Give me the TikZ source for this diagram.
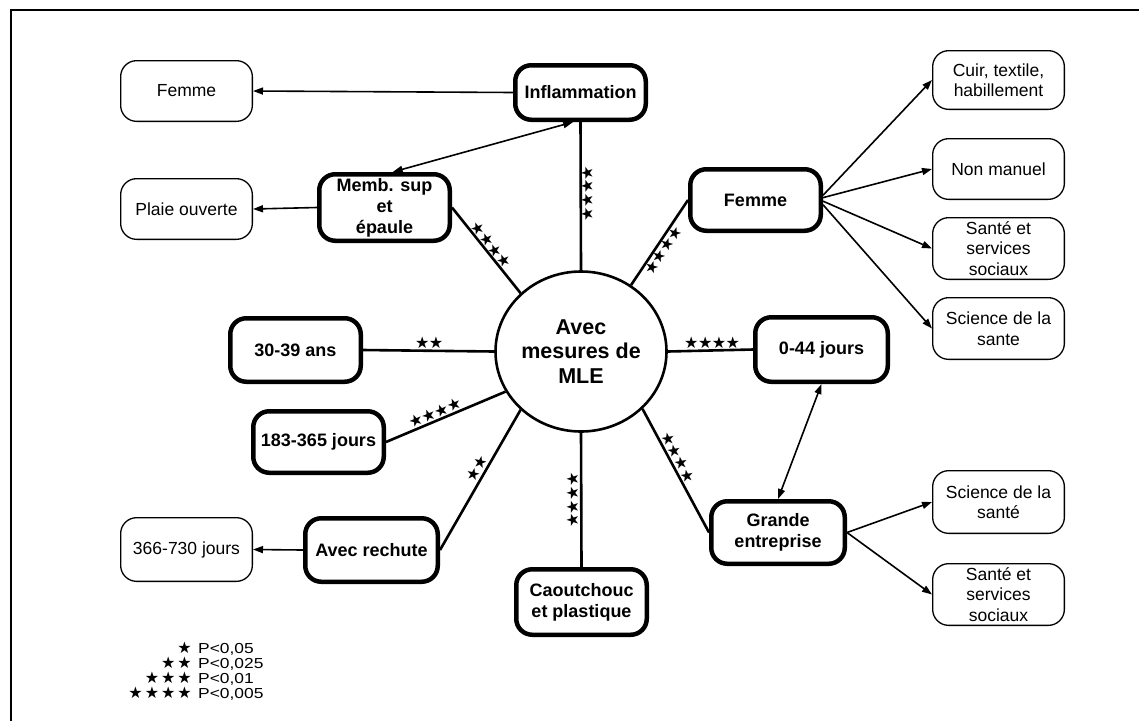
\documentclass[tikz,border=0pt]{standalone}
\usepackage{fontspec}
\setmainfont{Liberation Sans}
\newfontfamily\starfont{DejaVu Sans}
\newfontfamily\legfont[FakeStretch=1.2]{Liberation Sans}
\usetikzlibrary{arrows.meta,shapes.geometric,calc}
\newcommand\mytwostars{★\kern-0.5pt★}
\newcommand\myfourstars{★\kern-0.5pt★\kern-0.5pt★\kern-0.5pt★}
\begin{document}
\begin{tikzpicture}[x=1pt,y=-1pt,
  boldbox/.style={draw, line width=4.5pt, rounded corners=16pt, align=center,
    font=\bfseries\fontsize{18pt}{21pt}\selectfont, inner sep=1pt},
  thinbox/.style={draw, line width=1.3pt, rounded corners=16pt, align=center,
    font=\fontsize{17.5pt}{20.5pt}\selectfont, inner sep=1pt, minimum width=131.7pt},
  spoke/.style={line width=2.6pt},
  arr/.style={line width=1.6pt, -{Triangle[length=10pt,width=7pt]}},
  darr/.style={line width=1.6pt, {Triangle[length=10pt,width=7pt]}-{Triangle[length=10pt,width=7pt]}},
  pstars/.style={font=\starfont\fontsize{16pt}{16pt}\selectfont, inner sep=0pt},
  legstar/.style={font=\starfont\fontsize{16pt}{16pt}\selectfont, inner sep=0pt, anchor=base east},
  legtext/.style={font=\legfont\fontsize{14.5pt}{15pt}\selectfont, inner sep=0pt, anchor=base west}
]
\path[fill=white] (0,0) rectangle (1139,721);
\useasboundingbox (0,0) rectangle (1139,721);
\draw[line width=2pt] (11,721) -- (11,10) -- (1139,10);

% centre
\node[ellipse, draw, line width=2.6pt, minimum width=171pt, minimum height=160pt, inner sep=0pt,
  align=center, font=\bfseries\fontsize{21.5pt}{24.5pt}\selectfont] (c) at (581,351.5) {Avec\\mesures de\\MLE};

% bold boxes
\node[boldbox, minimum width=130.5pt, minimum height=54.5pt] (infl) at (580.5,92.5) {Inflammation};
\node[boldbox, minimum width=130.5pt, minimum height=66.5pt] (memb) at (384.5,207.5) {Memb. sup\\et\\épaule};
\node[boldbox, minimum width=130.5pt, minimum height=61.5pt] (femB) at (755.5,200) {Femme};
\node[boldbox, minimum width=130.5pt, minimum height=63.5pt] (a3039) at (295.5,350) {30-39 ans};
\node[boldbox, minimum width=130.5pt, minimum height=61.5pt] (j183) at (318.5,442) {183-365 jours};
\node[boldbox, minimum width=132.5pt, minimum height=63.5pt] (rech) at (371.5,550) {Avec rechute};
\node[boldbox, minimum width=130.5pt, minimum height=65.5pt] (caout) at (581.5,602) {Caoutchouc\\et plastique};
\node[boldbox, minimum width=132.5pt, minimum height=64.5pt] (j044) at (821.5,349.5) {0-44 jours};
\node[boldbox, minimum width=133.5pt, minimum height=62.5pt] (grande) at (778,532.5) {Grande\\entreprise};

% thin boxes
\node[thinbox, minimum height=60.7pt] (femL) at (186.5,91) {Femme};
\node[thinbox, minimum height=60.7pt] (plaie) at (186.5,209) {Plaie ouverte};
\node[thinbox, minimum height=63.7pt] (j366) at (186.5,549.5) {366-730 jours};
\node[thinbox, minimum height=58.7pt] (cuir) at (998.5,80) {Cuir, textile,\\habillement};
\node[thinbox, minimum height=60.7pt] (nonman) at (998.5,169) {Non manuel};
\node[thinbox, minimum height=61.7pt] (sante1) at (998.5,248.5) {Santé et\\services\\sociaux};
\node[thinbox, minimum height=61.7pt] (sci1) at (998.5,328.5) {Science de la\\sante};
\node[thinbox, minimum height=62.7pt] (sci2) at (998.5,502) {Science de la\\santé};
\node[thinbox, minimum height=61.7pt] (sante2) at (998.5,594.5) {Santé et\\services\\sociaux};

% spokes
\draw[spoke] (c.north) -- node[pstars, pos=0.517, xshift=6pt, rotate=90] (s1) {\myfourstars} (infl.south);
\draw[spoke] (c.136) -- node[pstars, pos=0.51, sloped, above=0.5pt] (s2) {\myfourstars} (memb.east);
\draw[spoke] (c.53.5) -- node[pstars, pos=0.457, sloped, below=0pt] (s3) {\myfourstars} (femB.west);
\draw[spoke] (c.west) -- node[pstars, pos=0.496, above=1pt] (s4) {\mytwostars} (a3039.east);
\draw[spoke] (c.208) -- node[pstars, pos=0.565, sloped, above=1pt] (s5) {\myfourstars} (j183.east);
\draw[spoke] (c.224) -- node[pstars, pos=0.45, sloped, above=1.5pt] (s6) {\mytwostars} (rech.east);
\draw[spoke] (c.south) -- node[pstars, pos=0.5, xshift=-9pt, rotate=90] (s7) {\myfourstars} (caout.north);
\draw[spoke] (c.east) -- node[pstars, pos=0.52, above=1pt] (s8) {\myfourstars} (j044.west);
\draw[spoke] (c.-43) -- node[pstars, pos=0.425, sloped, above=1.5pt] (s9) {\myfourstars} (grande.west);

% arrows
\draw[arr] (infl.west) -- (femL.east);
\draw[arr] (memb.west) -- (plaie.east);
\draw[arr] (rech.west) -- (j366.east);
\draw[darr] (infl.256) -- (memb.77);
\draw[darr] (j044.south) -- (grande.north);
\draw[arr] (femB.4) -- (cuir.west);
\draw[arr] (femB.2) -- (nonman.west);
\draw[arr] (femB.-1) -- (sante1.west);
\draw[arr] (femB.-4) -- (sci1.west);
\draw[arr] (grande.east) -- (sci2.west);
\draw[arr] (grande.east) -- (sante2.west);

% legend
\node[legstar] (ls1) at (192,653) {★};
\node[legstar] (ls2) at (192,668) {★\kern2pt★};
\node[legstar] (ls3) at (192,683) {★\kern2pt★\kern2pt★};
\node[legstar] (ls4) at (192,698) {★\kern2pt★\kern2pt★\kern2pt★};
\node[legtext] (lt1) at (198,653) {P<0,05};
\node[legtext] (lt2) at (198,668) {P<0,025};
\node[legtext] (lt3) at (198,683) {P<0,01};
\node[legtext] (lt4) at (198,698) {P<0,005};
\end{tikzpicture}
\end{document}
